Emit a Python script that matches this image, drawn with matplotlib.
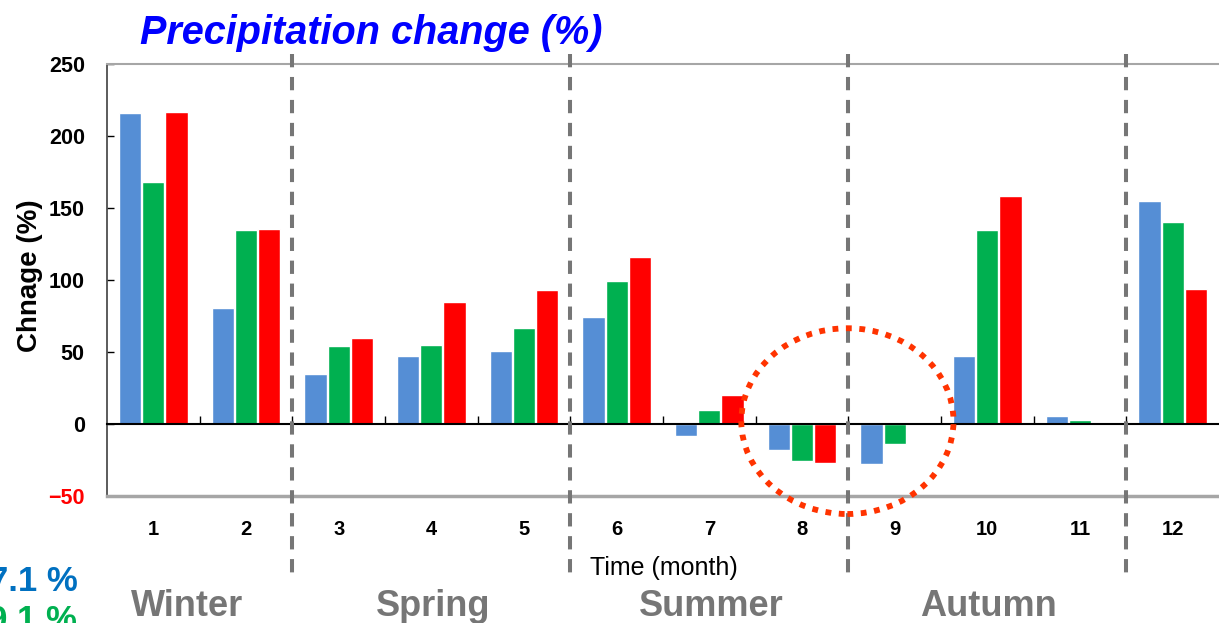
import matplotlib
matplotlib.use("Agg")
import matplotlib.pyplot as plt
from matplotlib.patches import Ellipse
import numpy as np

plt.rcParams['font.family'] = ['Liberation Sans', 'DejaVu Sans']

# monthly precipitation change (%) for three scenarios
months = [1, 2, 3, 4, 5, 6, 7, 8, 9, 10, 11, 12]
month_labels = [str(m) for m in months]
series_blue = [216, 80.5, 35, 47, 51, 74, -8, -18, -28, 47, 5.5, 155]
series_green = [168, 135, 54, 55, 67, 99, 10, -26, -14, 135, 3, 140]
series_red = [217, 135.5, 60, 85, 93, 116, 20, -27, 0, 158, 1, 94]
season_names = ["Winter", "Spring", "Summer", "Autumn"]
season_bounds = [2.5, 5.5, 8.5, 11.5]
y_ticks = [-50, 0, 50, 100, 150, 200, 250]

W, H = 1219, 623
fig = plt.figure(figsize=(W / 100, H / 100), dpi=100)
ax = fig.add_axes([107 / W, 1 - 496 / H, 1 - 107 / W, (496 - 64) / H])

x = np.array(months, dtype=float)
bw = 0.24
kw = dict(width=bw, edgecolor="white", linewidth=1, zorder=3)
ax.bar(x - 0.25, series_blue, color="#558ED5", **kw)
ax.bar(x, series_green, color="#00B050", **kw)
ax.bar(x + 0.25, series_red, color="#FF0000", **kw)

ax.set_xlim(0.5, 12.5)
ax.set_ylim(-50, 250)

# frame: gray top/bottom lines, x axis crosses at zero
ax.spines["right"].set_visible(False)
ax.spines["top"].set_color("#A6A6A6")
ax.spines["top"].set_linewidth(1.5)
ax.spines["left"].set_color("#404040")
ax.spines["left"].set_linewidth(1.2)
ax.spines["bottom"].set_position(("data", 0))
ax.spines["bottom"].set_color("black")
ax.spines["bottom"].set_linewidth(1.5)
ax.spines["bottom"].set_zorder(4)
ax.axhline(-50, color="#A6A6A6", lw=2.5, clip_on=False, zorder=4)

ax.set_yticks(y_ticks)
ax.tick_params(axis="y", direction="in", length=5, width=1, pad=16, labelsize=15.5)
for lab, v in zip(ax.get_yticklabels(), y_ticks):
    lab.set_fontweight("bold")
    lab.set_color("red" if v < 0 else "black")

ax.set_xticks(x)
ax.set_xticklabels(month_labels, fontsize=14.5, fontweight="bold")
ax.set_xticks(np.arange(1.5, 12.5, 1.0), minor=True)
ax.tick_params(axis="x", which="major", length=0, pad=69)
ax.tick_params(axis="x", which="minor", direction="in", length=6, width=1)

fig.text(30 / W, 1 - 276 / H, "Chnage (%)", fontsize=20, fontweight="bold",
         rotation=90, ha="center", va="center")

# season separators
for b in season_bounds:
    ax.plot([b, b], [257, -110], color="#767676", lw=2.9,
            dashes=(3.3, 2.4), clip_on=False, zorder=5)

# highlight of the dry late-summer months
ax.add_patch(Ellipse((8.49, 2), 2.29, 129, fill=False, edgecolor="#FF3300",
                     lw=4.2, linestyle=(0, (1.0, 1.3)), clip_on=False, zorder=6))

fig.text(140 / W, 1 - 44 / H, "Precipitation change (%)", color="#0000FF",
         fontsize=28.5, fontweight="bold", style="italic", va="baseline")

fig.text(664 / W, 1 - 568 / H, "Time (month)", fontsize=18,
         ha="center", va="center")

season_x = [187, 433, 711, 988]
for name, sx in zip(season_names, season_x):
    fig.text(sx / W, 1 - 616 / H, name, color="#767676", fontsize=26,
             fontweight="bold", ha="center", va="baseline")

fig.text(78 / W, 1 - 591 / H, "7.1 %", color="#0070C0", fontsize=25,
         fontweight="bold", ha="right", va="baseline")
fig.text(77 / W, 1 - 630 / H, "9.1 %", color="#00B050", fontsize=25,
         fontweight="bold", ha="right", va="baseline")

fig.savefig("out.png", dpi=100)
